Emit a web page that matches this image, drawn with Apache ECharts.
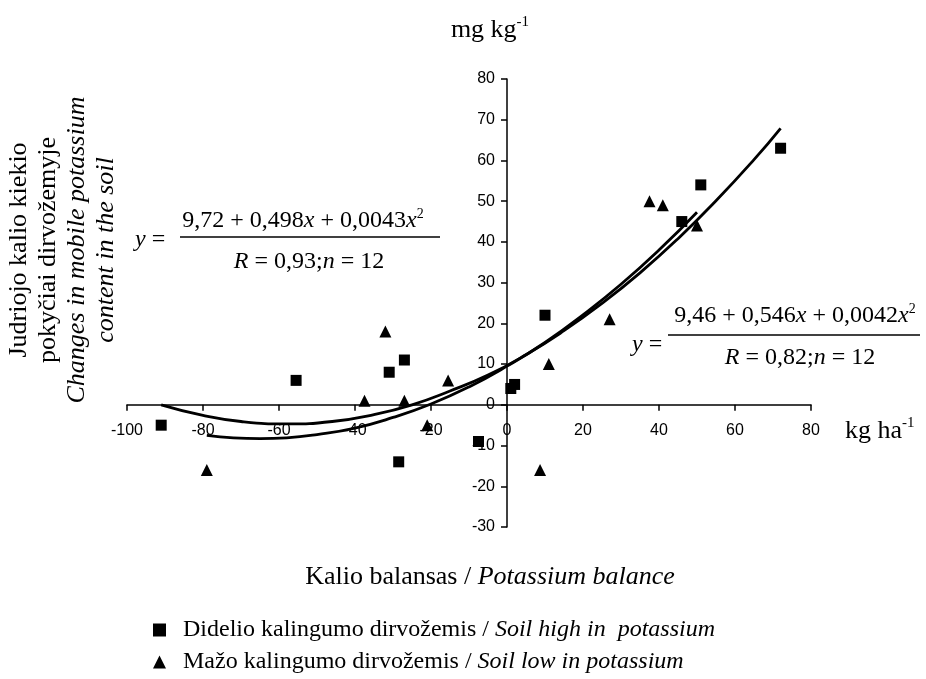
<!DOCTYPE html>
<html>
<head>
<meta charset="utf-8">
<script src="https://cdn.jsdelivr.net/npm/echarts@6/dist/echarts.min.js"></script>
<style>
  html, body { margin: 0; padding: 0; background: #fff; }
  #chart { width: 926px; height: 679px; }
</style>
</head>
<body>
<div id="chart"></div>
<script>
// soil high in potassium (squares)
const highX = [-91, -55.5, -31, -27, -28.5, -7.5, 1, 2, 10, 46, 51, 72];
const highY = [-5, 6, 8, 11, -14, -9, 4, 5, 22, 45, 54, 63];
// soil low in potassium (triangles)
const lowX = [-79, -37.5, -32, -27, -21, -15.5, 8.7, 11, 27, 37.5, 41, 50];
const lowY = [-16, 1, 18, 1, -5, 6, -16, 10, 21, 50, 49, 44];

// trend curves
const highTrendX = [-91, -80, -70, -58, -46, -35, -25, -15, -5, 5, 15, 25, 35, 45, 55, 65, 72];
const highTrendY = [0, -2.6, -4.1, -4.7, -4.1, -2.4, 0, 3.4, 7.3, 12.3, 18.2, 24.9, 32.4, 40.8, 50.1, 60.2, 67.9];
const lowTrendX = [-79, -72, -65, -58, -50, -40, -30, -20, -10, 0, 10, 20, 30, 40, 50];
const lowTrendY = [-7.5, -8.1, -8.3, -8.1, -7.3, -5.7, -3.1, 0.2, 4.4, 9.5, 15.3, 22.1, 29.6, 38, 47.3];

const legendNames = ["high", "low"];
const legendLabels = {
  high: ["Didelio kalingumo dirvožemis / ", "Soil high in  potassium"],
  low: ["Mažo kalingumo dirvožemis / ", "Soil low in potassium"],
};

const serif = "'Times New Roman', 'Liberation Serif', serif";
const sans = "Arial, 'Liberation Sans', sans-serif";

const zip = (xs, ys) => xs.map((x, i) => [x, ys[i]]);

const rich = {
  n: { fontFamily: serif, fontSize: 24, lineHeight: 28, color: "#000" },
  i: { fontFamily: serif, fontSize: 24, lineHeight: 28, fontStyle: "italic", color: "#000" },
  sup: { fontFamily: serif, fontSize: 14, lineHeight: 14, verticalAlign: "top", color: "#000" },
  u: { fontFamily: serif, fontSize: 26, lineHeight: 30, color: "#000" },
  ui: { fontFamily: serif, fontSize: 26, lineHeight: 30, fontStyle: "italic", color: "#000" },
  s: { fontFamily: serif, fontSize: 15, lineHeight: 15, verticalAlign: "top", color: "#000" },
  t: { fontFamily: serif, fontSize: 26, lineHeight: 29, color: "#000" },
  ti: { fontFamily: serif, fontSize: 26, lineHeight: 29, fontStyle: "italic", color: "#000" },
};

const legendRich = {
  g: { width: 12 },
  n: { fontFamily: serif, fontSize: 24, lineHeight: 24, color: "#000" },
  i: { fontFamily: serif, fontSize: 24, lineHeight: 24, fontStyle: "italic", color: "#000" },
};

function text(x, y, str, align, extra) {
  return Object.assign({
    type: "text",
    x: x,
    y: y,
    style: { text: str, rich: rich, align: align || "center", verticalAlign: "middle" },
  }, extra || {});
}

function hline(x1, x2, y) {
  return {
    type: "line",
    shape: { x1: x1, y1: y, x2: x2, y2: y },
    style: { stroke: "#000", lineWidth: 1.5 },
  };
}

const chart = echarts.init(document.getElementById("chart"));

// grid is 684 x 448 px: x=0 sits 380 px from the left, y=0 sits 122.18 px above the bottom
chart.setOption({
  animation: false,
  backgroundColor: "#fff",
  grid: { left: 127, right: 115, top: 79, bottom: 152, containLabel: false },
  xAxis: {
    type: "value",
    position: "bottom",
    offset: -122.18,
    min: -100,
    max: 80,
    interval: 20,
    axisLine: { onZero: false, lineStyle: { color: "#000", width: 1.5 } },
    axisTick: { inside: false, length: 6, lineStyle: { color: "#000", width: 1.5 } },
    axisLabel: { color: "#000", fontFamily: sans, fontSize: 16, margin: 18 },
    splitLine: { show: false },
  },
  yAxis: {
    type: "value",
    position: "left",
    offset: -380,
    min: -30,
    max: 80,
    interval: 10,
    axisLine: { onZero: false, lineStyle: { color: "#000", width: 1.5 } },
    axisTick: { inside: false, length: 6, lineStyle: { color: "#000", width: 1.5 } },
    axisLabel: { color: "#000", fontFamily: sans, fontSize: 16, margin: 12 },
    splitLine: { show: false },
  },
  legend: {
    data: legendNames,
    orient: "vertical",
    left: 148,
    top: 613,
    itemWidth: 13,
    itemHeight: 13,
    itemGap: 8,
    formatter: (name) => `{g| }{n|${legendLabels[name][0]}}{i|${legendLabels[name][1]}}`,
    textStyle: { rich: legendRich },
  },
  series: [
    {
      name: "high",
      type: "scatter",
      symbol: "rect",
      symbolSize: 11,
      itemStyle: { color: "#000", opacity: 1 },
      data: zip(highX, highY),
    },
    {
      name: "low",
      type: "scatter",
      symbol: "triangle",
      symbolSize: 12,
      itemStyle: { color: "#000", opacity: 1 },
      data: zip(lowX, lowY),
    },
    {
      name: "highTrend",
      type: "line",
      smooth: true,
      showSymbol: false,
      lineStyle: { color: "#000", width: 2.8 },
      data: zip(highTrendX, highTrendY),
    },
    {
      name: "lowTrend",
      type: "line",
      smooth: true,
      showSymbol: false,
      lineStyle: { color: "#000", width: 2.8 },
      data: zip(lowTrendX, lowTrendY),
    },
  ],
  graphic: [
    // units
    text(490, 30, "{u|mg kg}{s|-1}"),
    text(845, 431, "{u|kg ha}{s|-1}", "left"),
    // axis titles
    text(490, 577, "{u|Kalio balansas / }{ui|Potassium balance}"),
    text(63, 250,
      "{t|Judriojo kalio kiekio}\n{t|pokyčiai dirvožemyje}\n{ti|Changes in mobile potassium}\n{ti|content in the soil}",
      "center", { rotation: Math.PI / 2 }),
    // equation for soil high in potassium
    text(135, 240, "{i|y}{n| =}", "left"),
    text(303, 221, "{n|9,72 + 0,498}{i|x}{n| + 0,0043}{i|x}{sup|2}"),
    hline(180, 440, 237),
    text(309, 262, "{i|R}{n| = 0,93;}{i|n}{n| = 12}"),
    // equation for soil low in potassium
    text(632, 345, "{i|y}{n| =}", "left"),
    text(795, 316, "{n|9,46 + 0,546}{i|x}{n| + 0,0042}{i|x}{sup|2}"),
    hline(668, 920, 335),
    text(800, 358, "{i|R}{n| = 0,82;}{i|n}{n| = 12}"),
  ],
});
</script>
</body>
</html>
